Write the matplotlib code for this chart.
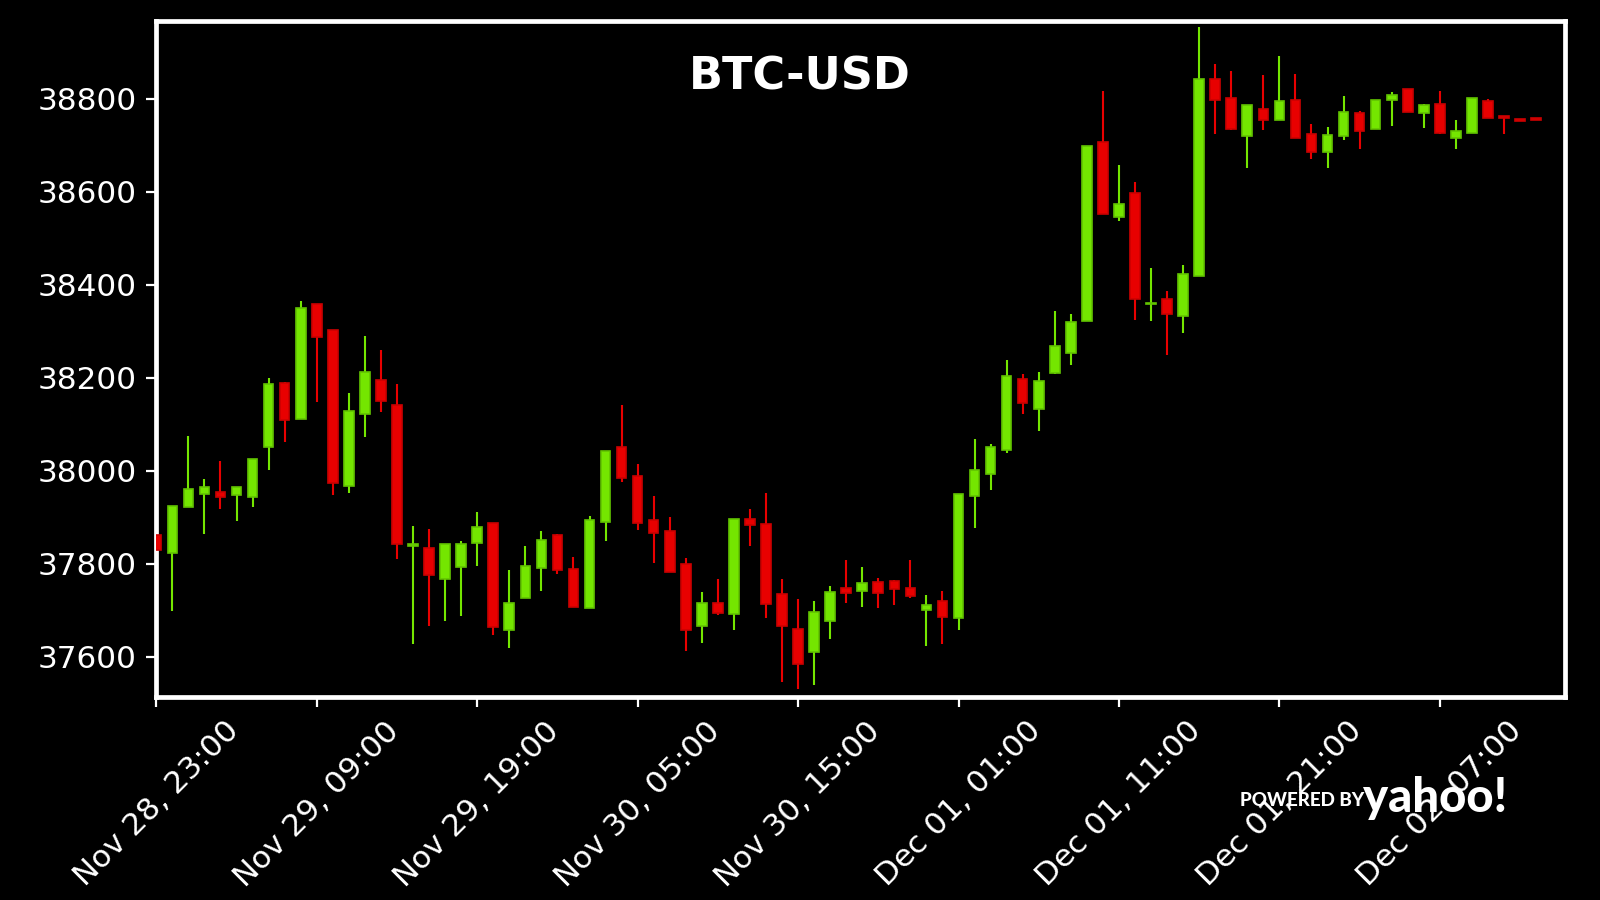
import numpy as np
import pandas as pd
import matplotlib
matplotlib.use("Agg")
import matplotlib.pyplot as plt

# hourly BTC-USD candles
start = "2021-11-28 23:00"
opens = [37862, 37824, 37923, 37951, 37954, 37948, 37944, 38052, 38189, 38112,
         38359, 38303, 37968, 38123, 38196, 38142, 37838, 37834, 37768, 37794,
         37845, 37889, 37658, 37726, 37792, 37862, 37789, 37706, 37891, 38051,
         37989, 37894, 37870, 37799, 37667, 37715, 37692, 37896, 37885, 37735,
         37660, 37611, 37678, 37748, 37742, 37761, 37763, 37748, 37701, 37720,
         37684, 37946, 37994, 38045, 38197, 38133, 38211, 38254, 38322, 38707,
         38546, 38597, 38360, 38369, 38334, 38419, 38842, 38803, 38720, 38778,
         38755, 38797, 38724, 38685, 38720, 38769, 38735, 38797, 38821, 38769,
         38788, 38715, 38726, 38795, 38764, 38756, 38758]
highs = [37862, 37924, 38075, 37982, 38021, 37965, 38026, 38200, 38191, 38366,
         38359, 38303, 38168, 38290, 38260, 38187, 37881, 37875, 37844, 37849,
         37911, 37889, 37787, 37838, 37871, 37864, 37815, 37903, 38043, 38142,
         38016, 37946, 37900, 37812, 37739, 37767, 37896, 37918, 37952, 37767,
         37724, 37720, 37752, 37808, 37793, 37769, 37765, 37808, 37733, 37741,
         37950, 38068, 38059, 38238, 38208, 38212, 38345, 38337, 38698, 38818,
         38657, 38621, 38436, 38388, 38442, 38954, 38874, 38861, 38786, 38851,
         38892, 38853, 38745, 38739, 38806, 38773, 38797, 38814, 38821, 38790,
         38816, 38754, 38801, 38799, 38764, 38756, 38758]
lows = [37830, 37699, 37923, 37864, 37918, 37892, 37922, 38002, 38062, 38112,
        38149, 37948, 37953, 38074, 38127, 37811, 37628, 37667, 37678, 37688,
        37796, 37647, 37619, 37726, 37742, 37779, 37708, 37706, 37850, 37977,
        37874, 37802, 37783, 37613, 37630, 37691, 37659, 37839, 37684, 37546,
        37531, 37539, 37639, 37716, 37707, 37705, 37712, 37727, 37624, 37628,
        37658, 37877, 37959, 38039, 38123, 38086, 38209, 38228, 38322, 38552,
        38538, 38325, 38322, 38249, 38297, 38419, 38725, 38734, 38651, 38733,
        38755, 38716, 38670, 38651, 38711, 38692, 38735, 38741, 38771, 38737,
        38724, 38692, 38726, 38758, 38724, 38753, 38755]
closes = [37830, 37924, 37961, 37965, 37944, 37965, 38026, 38187, 38110, 38351,
          38287, 37975, 38129, 38213, 38151, 37843, 37842, 37777, 37844, 37843,
          37879, 37665, 37715, 37795, 37851, 37788, 37708, 37894, 38043, 37985,
          37888, 37867, 37783, 37659, 37715, 37695, 37896, 37884, 37714, 37667,
          37585, 37696, 37739, 37738, 37758, 37738, 37746, 37731, 37711, 37686,
          37950, 38001, 38051, 38204, 38146, 38193, 38268, 38320, 38698, 38553,
          38575, 38370, 38362, 38338, 38423, 38842, 38798, 38735, 38786, 38755,
          38795, 38717, 38685, 38722, 38771, 38730, 38797, 38808, 38771, 38786,
          38726, 38730, 38801, 38758, 38760, 38753, 38755]

times = pd.date_range(start, periods=len(opens), freq="h")
o = np.array(opens, dtype=float)
h = np.array(highs, dtype=float)
l = np.array(lows, dtype=float)
c = np.array(closes, dtype=float)
x = np.arange(len(o))

up = c >= o
green, red = "#74e600", "#e80000"
face = np.where(up, green, red)
edge = np.where(up, "#62c400", "#cc0000")

fig = plt.figure(figsize=(8, 4.5), dpi=200, facecolor="black")
ax = fig.add_axes([0.0977, 0.2261, 0.9781 - 0.0977, 0.9764 - 0.2261])
ax.set_facecolor("black")

ax.vlines(x, l, h, colors=face, linewidth=0.75, zorder=2)
ax.bar(x, np.abs(c - o), bottom=np.minimum(o, c), width=0.6,
       color=face, edgecolor=edge, linewidth=0.6, zorder=3)

ax.set_xlim(0, 87.8)
ax.set_ylim(37515, 38967)

tick_pos = x[::10]
ax.set_xticks(tick_pos)
ax.set_xticklabels([t.strftime("%b %d, %H:%M") for t in times[::10]], rotation=45)
ax.set_yticks([37600, 37800, 38000, 38200, 38400, 38600, 38800])

for s in ax.spines.values():
    s.set_color("white")
    s.set_linewidth(1.7)
ax.tick_params(colors="white", labelsize=11.2, width=0.8, length=3.5)

fig.text(0.5, 0.915, "BTC-USD", color="white", fontsize=16, fontweight="bold",
         ha="center", va="center")

# "powered by yahoo!" badge
fig.text(1240 / 1600, 1 - 800 / 900, "POWERED BY", color="white", fontsize=6.8,
         family="Lato", fontweight="black", ha="left", va="center")
fig.text(1363 / 1600, 1 - 812 / 900, "yahoo!", color="white", fontsize=17,
         family="Lato", fontweight="black", ha="left", va="baseline")

plt.savefig("out.png", dpi=200, facecolor="black")
